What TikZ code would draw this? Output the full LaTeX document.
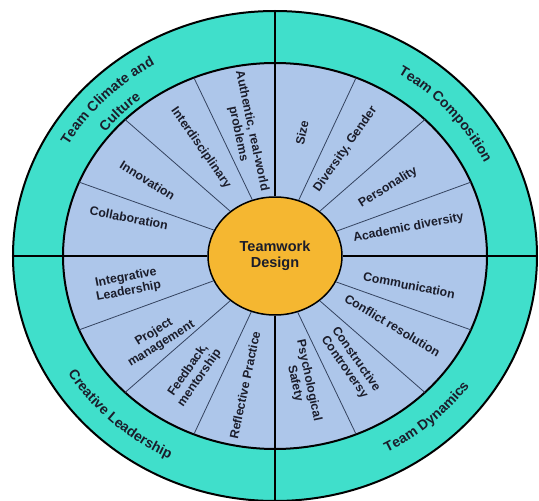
\documentclass[tikz,border=0pt]{standalone}
\usepackage{fontspec}
\setmainfont{Liberation Sans}
\usetikzlibrary{shapes.geometric,decorations.text}
\definecolor{ringteal}{HTML}{40DFCB}
\definecolor{sectorblue}{HTML}{ADC6EA}
\definecolor{coregold}{HTML}{F5B731}
\definecolor{ink}{HTML}{1B1D2B}
\definecolor{spoke}{HTML}{34435F}
\newcommand{\ringfont}{\color{ink}\bfseries\fontsize{14}{16}\selectfont}

\begin{document}
\begin{tikzpicture}[
    x=1pt,y=1pt,
    core/.style={draw,ellipse,line width=1.5pt,fill=coregold,minimum width=134pt,
                 minimum height=118pt,inner sep=0pt,align=center,
                 font=\bfseries\fontsize{14.5}{16.5}\selectfont,text=ink},
    sector/.style={align=center,inner sep=0pt,
                   font=\bfseries\fontsize{12.3}{14}\selectfont,text=ink},
    spokeline/.style={draw=spoke,line width=0.8pt},
    quadline/.style={line width=2.2pt},
    ringtext/.style={decorate,decoration={text along path,text align=center,
                     text={|\ringfont|#1}}}
]
\useasboundingbox (-275,-245) rectangle (264,256);
\clip (-275,-245) rectangle (264,256);
\fill[white] (-275,-245) rectangle (264,256);
\draw[line width=2pt,fill=ringteal] (0,0) ellipse[x radius=262,y radius=245];
\draw[line width=2pt,fill=sectorblue] (0,0) ellipse[x radius=212,y radius=193];
\node[core] (core) at (0,0) {Teamwork\\Design};

\foreach \a in {22.5,45,67.5,112.5,135,157.5,202.5,225,247.5,292.5,315,337.5}
    \draw[spokeline] (core.\a) -- (\a:212 and 193);
\foreach \a in {0,90,180,270}
    \draw[quadline] (core.\a) -- (\a:262 and 245);

\foreach \a/\r/\rot/\txt [count=\i] in {
    164/152/-11/Collaboration, 147/152/-32/Innovation,
    122/140/-55/Interdisciplinary, 102.5/139/-78/{Authentic, real-world\\problems},
    78.7/138/78/Size, 59/137/55/{Diversity, Gender},
    33.7/136/32/Personality, 13/137/11/Academic diversity,
    -13.5/138/-11/Communication, -33/140/-31/Conflict resolution,
    -57.5/140/-55/Constructive\\Controversy, -79/141/-78/Psychological\\Safety,
    192/151/11/Integrative\\Leadership, 217.6/148/32/Project\\management,
    238/153/55/{Feedback,\\mentorship}, 258/145/78/Reflective Practice}
    \node[sector,rotate=\rot] (sec\i) at ({\r*cos(\a)},{0.91*\r*sin(\a)}) {\txt};

\path[ringtext={Team Climate and}] (180:239 and 221)
    arc[start angle=180,end angle=92,x radius=239,y radius=221];
\path[ringtext={Culture}] (180:216 and 200)
    arc[start angle=180,end angle=92,x radius=216,y radius=200];
\path[ringtext={Team Composition}] (82:232 and 215)
    arc[start angle=82,end angle=0,x radius=232,y radius=215];
\path[ringtext={Creative Leadership}] (182:243 and 225)
    arc[start angle=182,end angle=272,x radius=243,y radius=225];
\path[ringtext={Team Dynamics}] (-93:240 and 222)
    arc[start angle=-93,end angle=-3,x radius=240,y radius=222];
\end{tikzpicture}
\end{document}
